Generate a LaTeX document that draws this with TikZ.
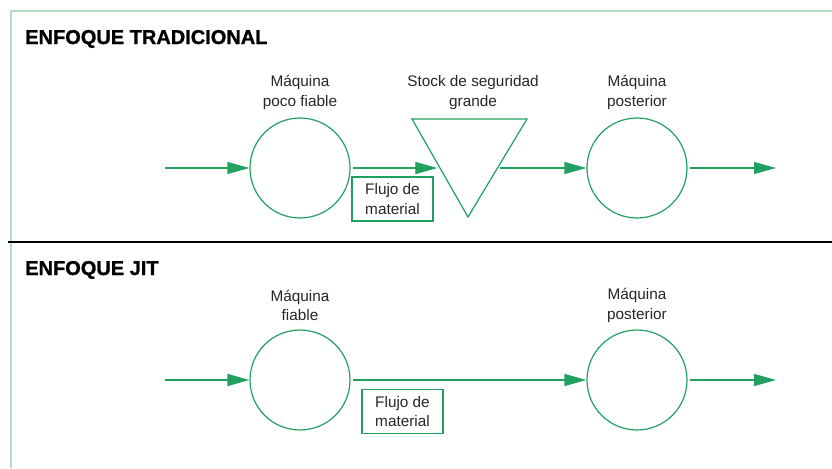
\documentclass[tikz,border=0pt]{standalone}
\usepackage{fontspec}
\setmainfont{Liberation Sans}
\newfontfamily\heavyfont[FakeBold=1.2]{Liberation Sans Bold}
\usetikzlibrary{arrows.meta}
\definecolor{grn}{HTML}{22A060}
\definecolor{pale}{HTML}{B3DCC3}
\begin{document}
\begin{tikzpicture}[x=0.75pt,y=-0.75pt,
  mach/.style={circle,draw=grn,line width=0.9pt,minimum size=75pt,inner sep=0pt},
  lbl/.style={align=center,font=\fontsize{11.5}{14.6}\selectfont,text=black!85,inner sep=0pt},
  flow/.style={draw=grn,line width=0.9pt,-{Triangle[length=16.5pt,width=9pt]}},
  fbox/.style={draw=grn,line width=0.9pt,align=center,minimum width=60.75pt,minimum height=33pt,inner sep=0pt,font=\fontsize{11.5}{14.6}\selectfont,text=black!85},
  ttl/.style={anchor=base west,font=\fontsize{15}{18}\heavyfont,inner sep=0pt}]
\useasboundingbox (0,0) rectangle (832,468);
\draw[pale,line width=1.3pt] (11,468) -- (11,11) -- (832,11);
\draw[black,line width=1.1pt] (8,242) -- (832,242);

% Traditional
\node[ttl] (t1) at (25,44) {ENFOQUE TRADICIONAL};
\node[mach] (a1) at (300,168) {};
\node[lbl] (la1) at (300,92.5) {Máquina\\poco fiable};
\draw[grn,line width=0.9pt] (412,119) -- (527,119) -- (468,217) -- cycle;
\coordinate (tin) at (440,168);
\coordinate (tout) at (499,168);
\node[lbl] (ls) at (473,92.5) {Stock de seguridad\\grande};
\node[mach] (a2) at (637,168) {};
\node[lbl] (la2) at (637,92.5) {Máquina\\posterior};
\coordinate (in1) at (165,168);
\coordinate (out1) at (776,168);
\draw[flow] (in1) -- (a1);
\draw[flow,shorten <=2pt,shorten >=2pt] (a1) -- (tin);
\draw[flow,shorten <=1pt] (tout) -- (a2);
\draw[flow,shorten <=2pt] (a2) -- (out1);
\node[fbox] (f1) at (392.5,199) {Flujo de\\material};

% JIT
\node[ttl] (t2) at (25,275) {ENFOQUE JIT};
\node[mach] (b1) at (300,380) {};
\node[lbl] (lb1) at (300,305.5) {Máquina\\fiable};
\node[mach] (b2) at (637,380) {};
\node[lbl] (lb2) at (637,305.5) {Máquina\\posterior};
\coordinate (in2) at (165,380);
\coordinate (out2) at (776,380);
\draw[flow] (in2) -- (b1);
\draw[flow,shorten <=2pt] (b1) -- (b2);
\draw[flow,shorten <=2pt] (b2) -- (out2);
\node[fbox] (f2) at (402.5,411.5) {Flujo de\\material};
\end{tikzpicture}
\end{document}
